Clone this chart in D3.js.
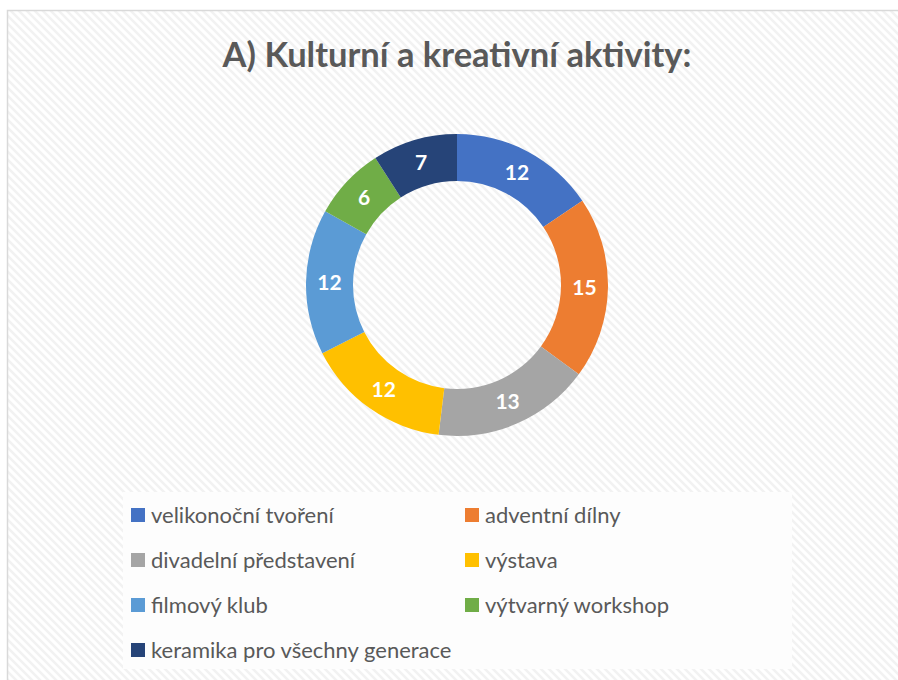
<!DOCTYPE html>
<html>
<head>
<meta charset="utf-8">
<script src="https://cdn.jsdelivr.net/npm/d3@7"></script>
<style>
  body { margin: 0; background: #fff; }
  text { font-family: Lato, "Open Sans", sans-serif; }
</style>
</head>
<body>
<script>
var width = 898, height = 680;

var title = "A) Kulturní a kreativní aktivity:";
var categories = ["velikonoční tvoření", "adventní dílny", "divadelní představení", "výstava",
                  "filmový klub", "výtvarný workshop", "keramika pro všechny generace"];
var values = [12, 15, 13, 12, 12, 6, 7];
var colors = ["#4472C4", "#ED7D31", "#A5A5A5", "#FFC000", "#5B9BD5", "#70AD47", "#264478"];

var svg = d3.select("body").append("svg")
    .attr("width", width)
    .attr("height", height);

// faint diagonal hatch (top-left to bottom-right)
var defs = svg.append("defs");
var pat = defs.append("pattern")
    .attr("id", "hatch")
    .attr("patternUnits", "userSpaceOnUse")
    .attr("width", 8)
    .attr("height", 8);
pat.append("rect").attr("width", 8).attr("height", 8).attr("fill", "#fff");
pat.append("path")
    .attr("d", "M-2,6 L2,10 M0,0 L8,8 M6,-2 L10,2")
    .attr("stroke", "#f2f2f2")
    .attr("stroke-width", 2.5);

svg.append("rect")
    .attr("x", 7.5).attr("y", 10.5)
    .attr("width", width).attr("height", height)
    .attr("fill", "url(#hatch)")
    .attr("stroke", "#d9d9d9")
    .attr("stroke-width", 1.5);

svg.append("text")
    .attr("x", 457)
    .attr("y", 67)
    .attr("text-anchor", "middle")
    .attr("font-size", 34.5)
    .attr("font-weight", "bold")
    .attr("fill", "#595959")
    .text(title);

// donut
var cx = 457, cy = 285;
var pie = d3.pie().sort(null).value(function(d) { return d; });
var arc = d3.arc().innerRadius(104).outerRadius(151);

var g = svg.append("g").attr("transform", "translate(" + cx + "," + cy + ")");

g.selectAll("path")
  .data(pie(values))
  .enter().append("path")
    .attr("d", arc)
    .attr("fill", function(d, i) { return colors[i]; });

g.selectAll("text")
  .data(pie(values))
  .enter().append("text")
    .attr("x", function(d) { return arc.centroid(d)[0]; })
    .attr("y", function(d) { return arc.centroid(d)[1]; })
    .attr("dy", "0.35em")
    .attr("text-anchor", "middle")
    .attr("font-size", 21)
    .attr("font-weight", "bold")
    .attr("fill", "#fff")
    .text(function(d) { return d.data; });

// legend
svg.append("rect")
    .attr("x", 123).attr("y", 492)
    .attr("width", 669).attr("height", 177)
    .attr("fill", "#fdfdfd");

var colX = d3.scalePoint().domain([0, 1]).range([131, 465]);
var rowY = d3.scalePoint().domain([0, 1, 2, 3]).range([515, 650]);

var items = svg.selectAll(".item")
  .data(categories)
  .enter().append("g")
    .attr("class", "item")
    .attr("transform", function(d, i) {
      return "translate(" + colX(i % 2) + "," + rowY(Math.floor(i / 2)) + ")";
    });

items.append("rect")
    .attr("x", 0).attr("y", -7)
    .attr("width", 14).attr("height", 14)
    .attr("fill", function(d, i) { return colors[i]; });

items.append("text")
    .attr("x", 20)
    .attr("dy", "0.35em")
    .attr("font-size", 22)
    .attr("fill", "#595959")
    .text(function(d) { return d; });
</script>
</body>
</html>
